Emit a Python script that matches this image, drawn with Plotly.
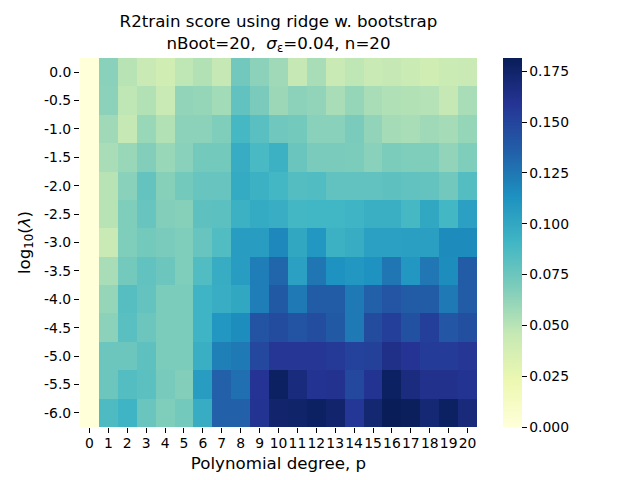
import plotly.graph_objects as go

degrees = list(range(21))
log_lambda = ['0.0', '-0.5', '-1.0', '-1.5', '-2.0', '-2.5', '-3.0',
              '-3.5', '-4.0', '-4.5', '-5.0', '-5.5', '-6.0']

r2_row0 = [0, .065, .050, .044, .040, .048, .052, .046, .073, .064, .058,
           .046, .055, .044, .048, .044, .046, .043, .040, .043, .044]
r2_row1 = [0, .064, .048, .052, .044, .062, .061, .057, .079, .070, .059,
           .064, .062, .055, .061, .055, .053, .052, .051, .046, .055]
r2_row2 = [0, .058, .046, .060, .052, .064, .064, .068, .089, .082, .074,
           .072, .065, .065, .070, .062, .056, .055, .058, .056, .061]
r2_row3 = [0, .055, .060, .067, .060, .065, .072, .072, .097, .088, .094,
           .076, .070, .070, .069, .065, .069, .068, .068, .062, .068]
r2_row4 = [0, .050, .065, .078, .066, .072, .077, .077, .098, .094, .090,
           .084, .085, .079, .079, .079, .080, .079, .078, .073, .084]
r2_row5 = [0, .050, .068, .077, .067, .066, .080, .081, .094, .098, .096,
           .090, .091, .091, .092, .095, .095, .089, .100, .090, .104]
r2_row6 = [0, .044, .068, .072, .070, .068, .077, .085, .106, .106, .118,
           .100, .110, .094, .097, .104, .104, .105, .105, .116, .116]
r2_row7 = [0, .055, .072, .079, .075, .068, .085, .097, .106, .122, .133,
           .104, .126, .113, .110, .113, .126, .110, .125, .115, .137]
r2_row8 = [0, .061, .083, .078, .069, .069, .092, .096, .100, .122, .139,
           .124, .138, .138, .124, .135, .141, .138, .138, .124, .137]
r2_row9 = [0, .064, .082, .075, .069, .069, .092, .110, .115, .142, .146,
           .142, .145, .139, .124, .146, .153, .143, .153, .140, .144]
r2_row10 = [0, .075, .075, .080, .069, .069, .095, .121, .124, .148, .158,
            .158, .158, .156, .151, .152, .163, .159, .155, .155, .158]
r2_row11 = [0, .075, .084, .081, .071, .067, .106, .135, .128, .159, .178,
            .168, .160, .161, .148, .160, .178, .167, .162, .162, .160]
r2_row12 = [0, .086, .092, .076, .068, .072, .097, .135, .135, .160, .174,
            .175, .178, .174, .157, .172, .181, .180, .171, .178, .169]

r2_scores = [r2_row0, r2_row1, r2_row2, r2_row3, r2_row4, r2_row5, r2_row6,
             r2_row7, r2_row8, r2_row9, r2_row10, r2_row11, r2_row12]

# matplotlib YlGnBu, plotly's named one runs the other way
ylgnbu = ['#ffffd9', '#edf8b1', '#c7e9b4', '#7fcdbb', '#41b6c4',
          '#1d91c0', '#225ea8', '#253494', '#081d58']
colorscale = [[i / 8, c] for i, c in enumerate(ylgnbu)]

cbar_ticks = [0, .025, .05, .075, .1, .125, .15, .175]

font = 'DejaVu Sans'
tick_size = 13.9
label_size = 16.67

# the page has an 8px body margin, so the figure is 8px smaller than the window
fig = go.Figure(go.Heatmap(
    z=r2_scores,
    x=degrees,
    y=log_lambda,
    zmin=0,
    zmax=.1815,
    colorscale=colorscale,
    colorbar=dict(
        x=1.0655,
        xanchor='left',
        xpad=0,
        ypad=0,
        y=0,
        yanchor='bottom',
        len=1,
        thickness=19,
        outlinewidth=0,
        tickmode='array',
        tickvals=cbar_ticks,
        tickformat='.3f',
        ticks='outside',
        ticklen=5,
        tickwidth=1.1,
        tickcolor='black',
        tickfont=dict(family=font, size=tick_size, color='black'),
    ),
))

fig.update_layout(
    width=632,
    height=472,
    margin=dict(l=72, r=163, t=50, b=53, autoexpand=False),
    paper_bgcolor='white',
    plot_bgcolor='white',
    font=dict(family=font, color='black'),
    title=dict(
        text='R2train score using ridge w. bootstrap<br>'
             'nBoot=20,  <i>σ</i><sub>ε</sub>=0.04, n=20',
        x=.428,
        xanchor='center',
        y=.96,
        yanchor='top',
        font=dict(family=font, size=label_size, color='black'),
    ),
)

fig.update_xaxes(
    title=dict(text='Polynomial degree, p', standoff=7,
               font=dict(family=font, size=label_size, color='black')),
    tickmode='array',
    tickvals=degrees,
    tickangle=0,
    ticks='outside',
    ticklen=5,
    tickwidth=1.1,
    tickcolor='black',
    ticklabelstandoff=-2,
    tickfont=dict(family=font, size=tick_size, color='black'),
    showgrid=False,
    zeroline=False,
    showline=False,
)
fig.update_yaxes(
    title=dict(text='log<sub>10</sub>(<i>λ</i>)', standoff=9,
               font=dict(family=font, size=label_size, color='black')),
    type='category',
    autorange='reversed',
    tickangle=0,
    ticks='outside',
    ticklen=5,
    tickwidth=1.1,
    tickcolor='black',
    tickfont=dict(family=font, size=tick_size, color='black'),
    showgrid=False,
    zeroline=False,
    showline=False,
)

fig.write_html("out.html")
